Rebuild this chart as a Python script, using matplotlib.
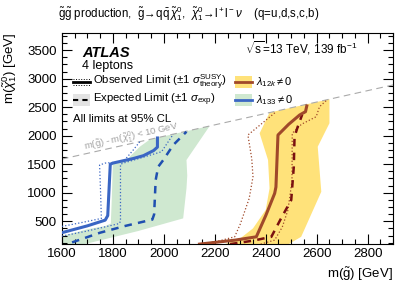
import numpy as np
import matplotlib
matplotlib.use("Agg")
import matplotlib.pyplot as plt
from matplotlib.patches import Rectangle
from matplotlib.ticker import MultipleLocator

plt.rcParams["font.family"] = ["Liberation Sans", "DejaVu Sans"]
plt.rcParams["mathtext.fontset"] = "custom"
plt.rcParams["mathtext.rm"] = "Liberation Sans"
plt.rcParams["mathtext.it"] = "Liberation Sans:italic"
plt.rcParams["mathtext.bf"] = "Liberation Sans:bold"

# lambda_133 (blue / green)
obs133_x = [1600, 1700, 1770, 1780, 1790, 1800, 1880, 1920, 1960, 1975, 1975]
obs133_y = [300, 420, 520, 600, 1500, 1520, 1600, 1650, 1740, 1800, 1960]
exp133_x = [1640, 1750, 1850, 1955, 1962, 1968, 1978, 1998, 2037, 2089]
exp133_y = [130, 300, 420, 530, 620, 1220, 1456, 1574, 1837, 2070]
up133_x = [1600, 1680, 1755, 1752, 1748, 1770, 1841, 1880, 1906]
up133_y = [410, 480, 550, 1000, 1486, 1520, 1544, 1749, 1895]
dn133_x = [1600, 1700, 1825, 1830, 1830, 1845, 1910, 1991, 2037]
dn133_y = [240, 330, 460, 500, 1500, 1525, 1610, 1719, 2025]
band133_x = [1600, 1600, 1700, 1770, 1792, 1796, 1800, 1850, 1906, 1946, 2180,
             2089, 2092, 2089, 2076, 1900, 1711, 1690]
band133_y = [100, 240, 360, 416, 460, 900, 1500, 1560, 1807, 1936, 2170,
             1574, 1300, 1077, 551, 330, 123, 100]

# lambda_12k (brown / yellow)
obs12k_x = [2140, 2200, 2280, 2363, 2400, 2435, 2440, 2448, 2490, 2533, 2556, 2561]
obs12k_y = [100, 130, 170, 228, 600, 989, 1100, 2012, 2200, 2363, 2421, 2521]
exp12k_x = [2260, 2350, 2422, 2460, 2500, 2510, 2513, 2525, 2543]
exp12k_y = [100, 160, 228, 550, 872, 1450, 1982, 2150, 2370]
up12k_x = [2150, 2220, 2278, 2300, 2335, 2350, 2345, 2330, 2441]
up12k_y = [100, 160, 228, 450, 900, 1280, 1600, 2012, 2421]
dn12k_x = [2380, 2435, 2465, 2487, 2503, 2504, 2540, 2598, 2611, 2640]
dn12k_y = [100, 170, 400, 696, 1200, 2042, 2200, 2333, 2509, 2625]
band12k_x = [2240, 2300, 2350, 2400, 2415, 2409, 2376, 2415, 2650, 2650, 2604,
             2618, 2539, 2490]
band12k_y = [100, 200, 375, 700, 1077, 1574, 2042, 2405, 2640, 2218, 1807,
             1018, 228, 100]

diag_x = [1600, 2900]

fig = plt.figure(figsize=(4.07, 2.92), dpi=100)
ax = fig.add_axes([0.152, 0.164, 0.814, 0.723])
ax.set_xlim(1600, 2900)
ax.set_ylim(100, 3800)

green = "#cfe8d0"
yellow = "#ffe27a"
blue = "#3a66c4"
dblue = "#1f4fb0"
brown = "#a0492a"
dred = "#7a1010"

ax.fill(band133_x, band133_y, color=green, lw=0, zorder=1)
ax.fill(band12k_x, band12k_y, color=yellow, lw=0, zorder=1)

ax.plot(up133_x, up133_y, ls=":", color=blue, lw=0.9, zorder=3)
ax.plot(dn133_x, dn133_y, ls=":", color=blue, lw=0.9, zorder=3)
ax.plot(exp133_x, exp133_y, ls=(0, (3, 2.5)), color=dblue, lw=1.8, zorder=4)
ax.plot(obs133_x, obs133_y, color=blue, lw=2.2, zorder=5)

ax.plot(up12k_x, up12k_y, ls=":", color=brown, lw=0.9, zorder=3)
ax.plot(dn12k_x, dn12k_y, ls=":", color=brown, lw=0.9, zorder=3)
ax.plot(exp12k_x, exp12k_y, ls=(0, (3, 2.5)), color=dred, lw=1.8, zorder=4)
ax.plot(obs12k_x, obs12k_y, color=brown, lw=2.2, zorder=5)

ax.plot(diag_x, [v - 10 for v in diag_x], ls=(0, (6, 4)), color="#aaaaaa", lw=0.8, zorder=2)
ax.text(1871, 1985, r"m($\tilde{\mathrm{g}}$) - m($\tilde{\chi}^0_1$) < 10 GeV", color="#a0a0a0",
        fontsize=6.8, rotation=12.6, ha="center", va="center", zorder=6)

ax.xaxis.set_major_locator(MultipleLocator(200))
ax.xaxis.set_minor_locator(MultipleLocator(50))
ax.yaxis.set_major_locator(MultipleLocator(500))
ax.yaxis.set_minor_locator(MultipleLocator(125))
ax.set_yticks([500, 1000, 1500, 2000, 2500, 3000, 3500])
ax.tick_params(which="both", direction="in", top=True, right=True, labelsize=9.5, width=0.8)
ax.tick_params(which="major", length=7)
ax.tick_params(which="minor", length=3.5)
ax.tick_params(axis="x", pad=3)
for s in ax.spines.values():
    s.set_linewidth(0.8)

ax.set_xlabel(r"m($\tilde{\mathrm{g}}$) [GeV]", fontsize=9.5, ha="right", x=1.0)
ax.set_ylabel(r"m($\tilde{\chi}^0_1$) [GeV]", fontsize=9.5, ha="right", y=1.0, labelpad=6)

fig.text(0.143, 0.952,
         r"$\tilde{\mathrm{g}}\tilde{\mathrm{g}}$ production,  $\tilde{\mathrm{g}}\!\rightarrow\!\mathrm{q}\bar{\mathrm{q}}\,\tilde{\chi}^0_1$,  "
         r"$\tilde{\chi}^0_1\!\rightarrow\!\mathrm{l}^+\mathrm{l}^-\nu$    (q=u,d,s,c,b)",
         fontsize=8.3, ha="left", va="center")

tr = ax.transAxes
ax.text(0.062, 0.905, "ATLAS", transform=tr, fontsize=10.5, fontweight="bold",
        fontstyle="italic", va="center")
ax.text(0.062, 0.845, "4 leptons", transform=tr, fontsize=9, va="center")
ax.text(0.553, 0.929, r"$\sqrt{\mathrm{s}}$=13 TeV, 139 fb$^{-1}$", transform=tr,
        fontsize=8.5, va="center")

# legend samples
r1, r2 = 0.768, 0.682
ax.plot([0.034, 0.086], [r1, r1], color="k", lw=2, transform=tr, zorder=7)
ax.plot([0.034, 0.086], [r1 + 0.013, r1 + 0.013], color="k", lw=0.7, ls=":", transform=tr, zorder=7)
ax.plot([0.034, 0.086], [r1 - 0.013, r1 - 0.013], color="k", lw=0.7, ls=":", transform=tr, zorder=7)
ax.text(0.094, r1, r"Observed Limit ($\pm$1 $\sigma^{\mathrm{SUSY}}_{\mathrm{theory}}$)",
        transform=tr, fontsize=8.2, va="center")
ax.add_patch(Rectangle((0.034, r2 - 0.03), 0.052, 0.06, transform=tr, color="#e3e3e3", lw=0, zorder=6))
ax.plot([0.034, 0.086], [r2, r2], color="k", lw=1.5, ls=(0, (2.5, 2)), transform=tr, zorder=7)
ax.text(0.094, r2, r"Expected Limit ($\pm$1 $\sigma_{\mathrm{exp}}$)",
        transform=tr, fontsize=8.2, va="center")
ax.text(0.034, 0.592, "All limits at 95% CL", transform=tr, fontsize=8.2, va="center")

ax.add_patch(Rectangle((0.523, r1 - 0.03), 0.051, 0.06, transform=tr, color=yellow, lw=0, zorder=6))
ax.plot([0.523, 0.574], [r1, r1], color=brown, lw=2, transform=tr, zorder=7)
ax.text(0.586, r1, r"$\lambda_{12k}\neq 0$", transform=tr, fontsize=8, va="center")
ax.add_patch(Rectangle((0.523, r2 - 0.03), 0.051, 0.06, transform=tr, color=green, lw=0, zorder=6))
ax.plot([0.523, 0.574], [r2, r2], color=blue, lw=2, transform=tr, zorder=7)
ax.text(0.586, r2, r"$\lambda_{133}\neq 0$", transform=tr, fontsize=8, va="center")

fig.savefig("out.png", dpi=100)
